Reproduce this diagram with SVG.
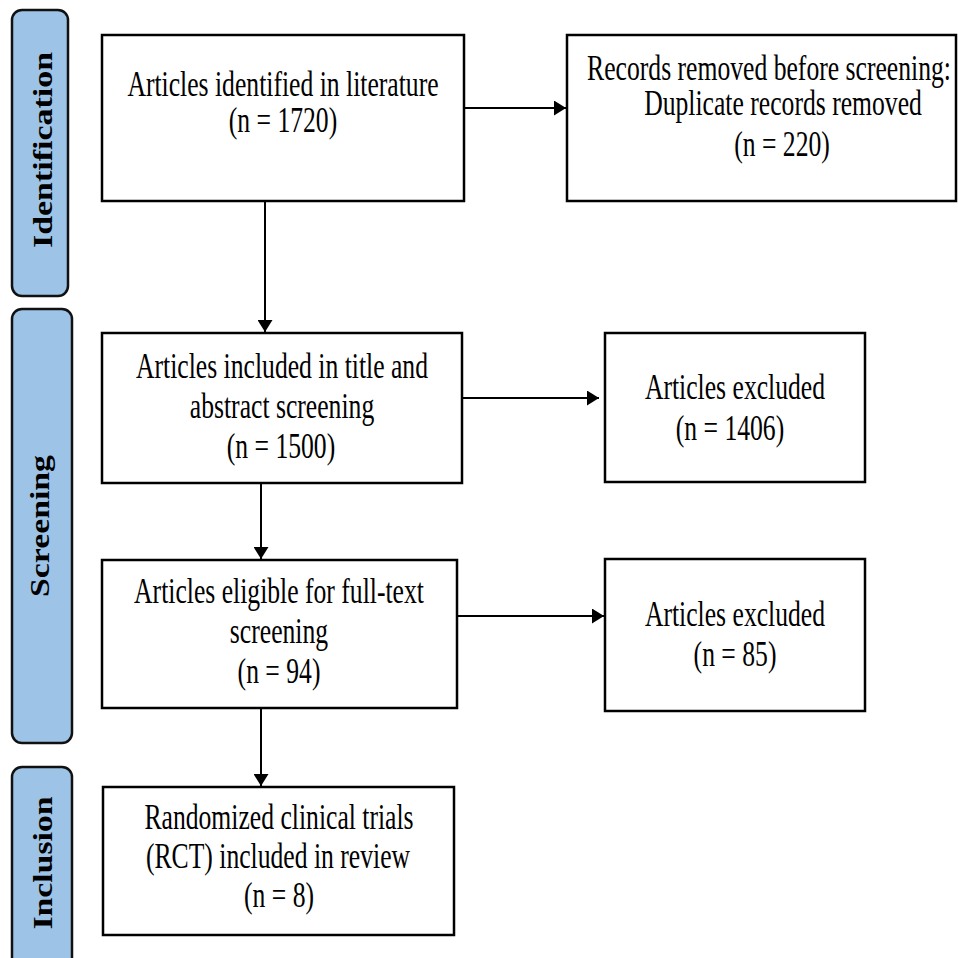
<svg xmlns="http://www.w3.org/2000/svg" width="958" height="958" viewBox="0 0 958 958">
<style>
.bar{fill:#9dc3e6;stroke:#111;stroke-width:2.5}
.box{fill:#fff;stroke:#000;stroke-width:2.5}
.t{font-family:"Liberation Serif","Times New Roman",serif;font-size:35px;fill:#000;text-anchor:middle}
.s{font-family:"Liberation Serif","Times New Roman",serif;font-size:28px;font-weight:bold;fill:#000;text-anchor:middle}
.c{stroke:#000;stroke-width:2;fill:none;marker-end:url(#ah)}
</style>
<defs>
<marker id="ah" markerWidth="13" markerHeight="15" refX="12" refY="7.5" orient="auto" markerUnits="userSpaceOnUse">
<path d="M0,0 L12,7.5 L0,15 z" fill="#000"/>
</marker>
</defs>
<rect width="958" height="958" fill="#fff"/>
<g id="stage-identification">
<rect class="bar" x="12" y="10" width="56" height="286" rx="10"/>
<text class="s" transform="translate(52 150) rotate(-90)" textLength="196" lengthAdjust="spacingAndGlyphs">Identification</text>
</g>
<g id="stage-screening">
<rect class="bar" x="12" y="309" width="60" height="434" rx="10"/>
<text class="s" transform="translate(49 526) rotate(-90)" textLength="142" lengthAdjust="spacingAndGlyphs">Screening</text>
</g>
<g id="stage-inclusion">
<rect class="bar" x="12" y="767" width="60" height="210" rx="10"/>
<text class="s" transform="translate(52 863) rotate(-90)" textLength="133" lengthAdjust="spacingAndGlyphs">Inclusion</text>
</g>
<g id="connectors">
<line class="c" x1="465" y1="108" x2="566" y2="108"/>
<line class="c" x1="265" y1="202" x2="265" y2="332"/>
<line class="c" x1="463" y1="398" x2="599" y2="398"/>
<line class="c" x1="261" y1="484" x2="261" y2="559"/>
<line class="c" x1="458" y1="616" x2="604" y2="616"/>
<line class="c" x1="261" y1="709" x2="261" y2="786"/>
</g>
<g id="identified">
<rect class="box" x="102" y="35" width="362" height="166"/>
<text class="t" transform="translate(283 0) scale(0.733 1)" y="96">Articles identified in literature</text>
<text class="t" transform="translate(283 0) scale(0.733 1)" y="132">(n = 1720)</text>
</g>
<g id="removed">
<rect class="box" x="567" y="35" width="389" height="166"/>
<text class="t" transform="translate(769 0) scale(0.733 1)" y="80">Records removed before screening:</text>
<text class="t" transform="translate(783 0) scale(0.733 1)" y="115">Duplicate records removed</text>
<text class="t" transform="translate(782 0) scale(0.733 1)" y="156">(n = 220)</text>
</g>
<g id="title-abstract">
<rect class="box" x="102" y="333" width="360" height="150"/>
<text class="t" transform="translate(282 0) scale(0.733 1)" y="378">Articles included in title and</text>
<text class="t" transform="translate(282 0) scale(0.733 1)" y="418">abstract screening</text>
<text class="t" transform="translate(281 0) scale(0.733 1)" y="458">(n = 1500)</text>
</g>
<g id="excluded-1">
<rect class="box" x="605" y="333" width="260" height="149"/>
<text class="t" transform="translate(735 0) scale(0.733 1)" y="399">Articles excluded</text>
<text class="t" transform="translate(730 0) scale(0.733 1)" y="440">(n = 1406)</text>
</g>
<g id="full-text">
<rect class="box" x="102" y="560" width="355" height="148"/>
<text class="t" transform="translate(279 0) scale(0.733 1)" y="603">Articles eligible for full-text</text>
<text class="t" transform="translate(279 0) scale(0.733 1)" y="643">screening</text>
<text class="t" transform="translate(279 0) scale(0.733 1)" y="683">(n = 94)</text>
</g>
<g id="excluded-2">
<rect class="box" x="605" y="559" width="260" height="152"/>
<text class="t" transform="translate(735 0) scale(0.733 1)" y="626">Articles excluded</text>
<text class="t" transform="translate(735 0) scale(0.733 1)" y="666">(n = 85)</text>
</g>
<g id="included">
<rect class="box" x="103" y="787" width="351" height="148"/>
<text class="t" transform="translate(279 0) scale(0.733 1)" y="829">Randomized clinical trials</text>
<text class="t" transform="translate(278 0) scale(0.733 1)" y="868">(RCT) included in review</text>
<text class="t" transform="translate(279 0) scale(0.733 1)" y="907">(n = 8)</text>
</g>
</svg>
